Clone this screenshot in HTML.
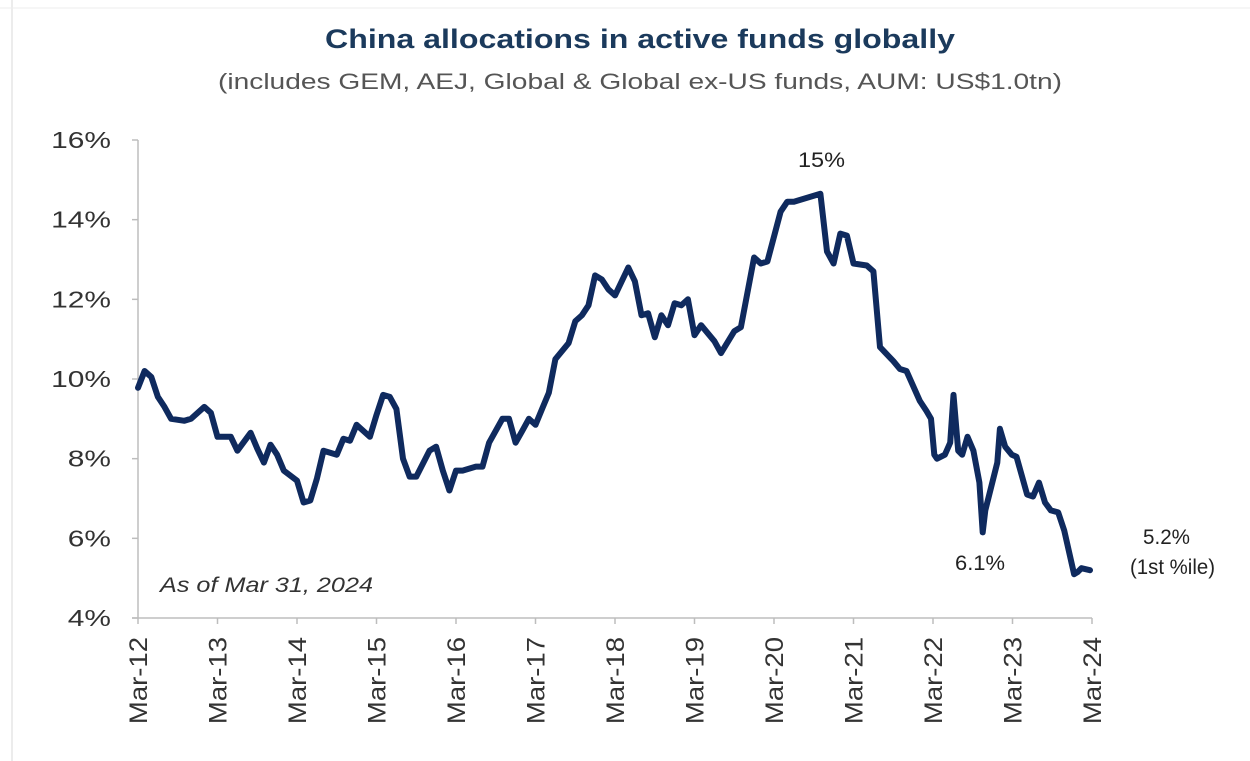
<!DOCTYPE html>
<html><head><meta charset="utf-8"><style>
body{margin:0;background:#fff;}
svg{display:block;font-family:"Liberation Sans",Arial,sans-serif;}
</style></head><body>
<svg id="c" width="1250" height="761" viewBox="0 0 1250 761">
<line x1="12" y1="0" x2="12" y2="761" stroke="#e6e6e6" stroke-width="1.5"/>
<line x1="0" y1="8" x2="1250" y2="8" stroke="#eeeeee" stroke-width="1"/>
<text x="325" y="48" textLength="630" lengthAdjust="spacingAndGlyphs" font-size="27" font-weight="bold" fill="#1b3a5c">China allocations in active funds globally</text>
<text x="218" y="89" textLength="844" lengthAdjust="spacingAndGlyphs" font-size="22" fill="#555">(includes GEM, AEJ, Global &amp; Global ex-US funds, AUM: US$1.0tn)</text>
<g id="axes"></g>
<g id="series"></g>
<text x="160" y="592" textLength="213" lengthAdjust="spacingAndGlyphs" font-size="21" font-style="italic" fill="#333">As of Mar 31, 2024</text>
<text x="798" y="167" textLength="47" lengthAdjust="spacingAndGlyphs" font-size="21" fill="#222">15%</text>
<text x="955" y="570" textLength="50" lengthAdjust="spacingAndGlyphs" font-size="21" fill="#222">6.1%</text>
<text x="1143" y="544" textLength="47" lengthAdjust="spacingAndGlyphs" font-size="21" fill="#222">5.2%</text>
<text x="1130" y="574" textLength="85" lengthAdjust="spacingAndGlyphs" font-size="21" fill="#222">(1st %ile)</text>
</svg>
<script>
const yTicks = [4, 6, 8, 10, 12, 14, 16];
const xTickLabels = ["Mar-12","Mar-13","Mar-14","Mar-15","Mar-16","Mar-17","Mar-18","Mar-19","Mar-20","Mar-21","Mar-22","Mar-23","Mar-24"];
const months = [0,1,2,3,4,5,7,8,10,11,12,14,15,17,18,19,20,21,22,24,25,26,27,28,30,31,32,33,35,36,37,38,39,40,41,42,44,45,46,47,48,49,51,52,53,55,56,57,58,59,60,61,62,63,65,66,67,68,69,70,71,72,74,75,76,77,78,79,80,81,82,83,84,85,87,88,90,91,93,94,95,97,98,99,103,104,105,106,107,108,110,111,112,114,115,116,118,119,119.7,120.2,120.6,121.8,122.6,123.1,123.8,124.4,125.2,126.1,127.0,127.5,127.9,129.7,130.1,130.9,131.9,132.6,134.2,135.1,136.0,136.9,137.8,138.9,139.8,141.3,141.8,142.4,143.7];
const values = [9.78,10.2,10.05,9.55,9.3,9.0,8.95,9.0,9.3,9.15,8.55,8.55,8.2,8.65,8.25,7.9,8.35,8.1,7.7,7.45,6.9,6.95,7.5,8.2,8.1,8.5,8.45,8.85,8.55,9.1,9.6,9.55,9.25,8.0,7.55,7.55,8.2,8.3,7.7,7.2,7.7,7.7,7.8,7.8,8.4,9.0,9.0,8.4,8.7,9.0,8.85,9.25,9.65,10.5,10.9,11.45,11.6,11.85,12.6,12.5,12.25,12.1,12.8,12.45,11.6,11.65,11.05,11.6,11.35,11.9,11.85,12.0,11.1,11.35,10.95,10.65,11.2,11.3,13.05,12.9,12.95,14.2,14.45,14.45,14.65,13.2,12.9,13.65,13.6,12.9,12.85,12.7,10.8,10.45,10.25,10.2,9.45,9.2,9.0,8.1,8.0,8.1,8.4,9.6,8.2,8.1,8.55,8.2,7.4,6.15,6.7,7.9,8.75,8.3,8.1,8.05,7.1,7.05,7.4,6.9,6.7,6.65,6.2,5.1,5.15,5.25,5.2];

const X0=138, X1=1092, Y0=618, Y1=140;
const xScale = m => X0 + (m/144)*(X1-X0);
const yScale = v => Y0 - (v-4)/12*(Y0-Y1);
const NS="http://www.w3.org/2000/svg";
const axes=document.getElementById('axes');
function mk(tag, attrs, parent){const e=document.createElementNS(NS,tag);for(const k in attrs)e.setAttribute(k,attrs[k]);parent.appendChild(e);return e;}
function stretch(el,f){const w=el.getComputedTextLength();el.setAttribute('textLength',(w*f).toFixed(1));el.setAttribute('lengthAdjust','spacingAndGlyphs');}

const yAxis=mk('line',{x1:X0,y1:Y1,x2:X0,y2:Y0,stroke:'#bdbdbd','stroke-width':1.5},axes);


const xAxis=mk('line',{x1:X0-6,y1:Y0,x2:X1,y2:Y0,stroke:'#bdbdbd','stroke-width':1.5},axes);



yTicks.forEach(v=>{
  const y=yScale(v);
  const t=mk('line',{x1:X0-6,y1:y,x2:X0,y2:y,stroke:'#bdbdbd','stroke-width':1.5},axes);
  
  
  const l=mk('text',{x:111,y:y+8,'text-anchor':'end','font-size':23,fill:'#333'},axes);
  l.textContent=v+'%';
  
  
  stretch(l,1.3);
});
xTickLabels.forEach((lab,i)=>{
  const x=xScale(i*12);
  const t=mk('line',{x1:x,y1:Y0,x2:x,y2:Y0+6,stroke:'#bdbdbd','stroke-width':1.5},axes);
  
  
  const l=mk('text',{x:0,y:0,'text-anchor':'end','font-size':25,fill:'#333',transform:`translate(${x+9},${Y0+19}) rotate(-90)`},axes);
  l.textContent=lab;
  
  
  stretch(l,1.1);
});

const d=months.map((m,i)=>(i?'L':'M')+xScale(m).toFixed(1)+','+yScale(values[i]).toFixed(1)).join(' ');
const p=mk('path',{d:d,fill:'none',stroke:'#0f2a5e','stroke-width':6,'stroke-linejoin':'round','stroke-linecap':'round'},document.getElementById('series'));


</script>
</body></html>
